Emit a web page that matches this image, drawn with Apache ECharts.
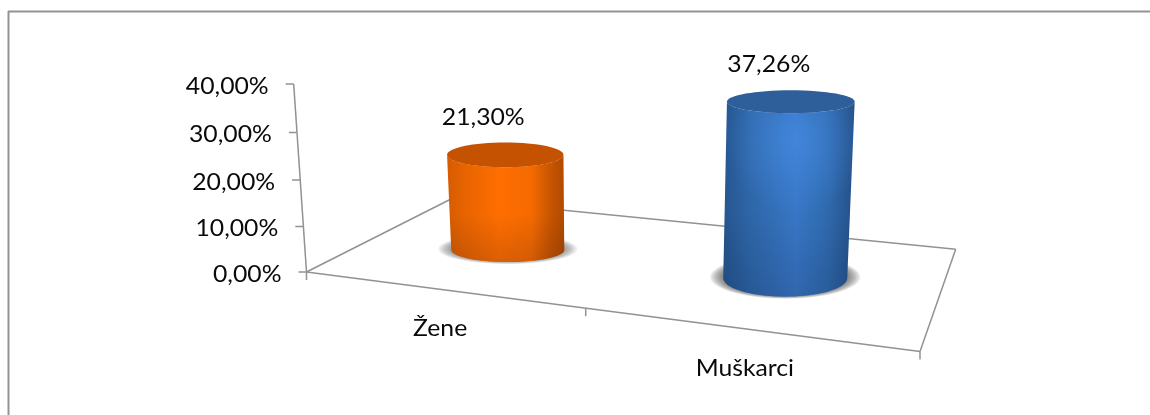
<!DOCTYPE html>
<html><head><meta charset="utf-8">
<style>html,body{margin:0;padding:0;background:#fff}#c{width:1150px;height:415px}</style>
<script src="https://cdn.jsdelivr.net/npm/echarts@6/dist/echarts.min.js"></script>
</head><body><div id="c"></div>
<script>
const categories = ['Žene', 'Muškarci'];
const values = [21.30, 37.26];
const valueLabels = ['21,30%', '37,26%'];
const yTicks = [0, 10, 20, 30, 40];
const yTickLabels = ['0,00%', '10,00%', '20,00%', '30,00%', '40,00%'];

const chart = echarts.init(document.getElementById('c'), null, {renderer: 'canvas'});
const AXIS_GRAY = '#929292', TEXT = '#0a0a0a', FONT = '22.5px Lato';
const VX = 634, TAU = 0.000208;           // one-point perspective of the Excel 3-D view
const FLOOR = {fl: [306.5, 272], fr: [920, 351.5], br: [955.7, 249.3], bl: [451, 199]};
const PALETTE = [
  {top: '#c45200', shadow: 'rgba(60,60,60,.085)', side: [[0,'#d65c00'],[.15,'#e86400'],[.45,'#ff6e00'],[.72,'#f56a00'],[.88,'#c85500'],[1,'#b04a00']], glow: 'rgba(255,120,0,0)'},
  {top: '#2e5f9b', shadow: 'rgba(50,50,50,.11)', side: [[0,'#25568f'],[.2,'#2e66a8'],[.55,'#3877c6'],[.8,'#2f6aae'],[1,'#244f86']], glow: 'rgba(74,145,235,.55)'}
];
function lift(px, py, zeroY) {            // perspective of a point raised above the floor
  const h = zeroY - py;
  return [px + (px - VX) * TAU * h, py + 0.000226 * h * (188 - h)];
}
function txt(s, x, y, align) {
  return {type: 'text', x: x, y: y, scaleX: 1.1, style: {text: s, font: FONT, fill: TEXT, align: align || 'center', verticalAlign: 'middle'}, silent: true};
}
function ln(a, b, w) {
  return {type: 'line', shape: {x1: a[0], y1: a[1], x2: b[0], y2: b[1]}, style: {stroke: AXIS_GRAY, lineWidth: w || 1.5}, silent: true};
}
function ring(cx, cy, rx, ry, from, to, n) {
  const p = [];
  for (let i = 0; i <= n; i++) { const t = from + (to - from) * i / n; p.push([cx + rx * Math.cos(t), cy + ry * Math.sin(t)]); }
  return p;
}
function renderFrame(params, api) {
  const zero = api.coord([0, 0])[1], kids = [];
  const f = FLOOR;
  kids.push(ln(f.fl, f.fr), ln(f.fr, f.br), ln(f.br, f.bl), ln(f.bl, f.fl));
  const midT = (585.7 - f.fl[0]) / (f.fr[0] - f.fl[0]);
  const mid = [585.7, f.fl[1] + (f.fr[1] - f.fl[1]) * midT];
  [f.fl, mid, f.fr].forEach(p => kids.push(ln(p, [p[0], p[1] + 8])));
  const top = lift(f.fl[0], api.coord([0, yTicks[yTicks.length - 1]])[1], zero);
  kids.push(ln([f.fl[0], zero], top));
  yTicks.forEach((t, i) => {
    const p = lift(f.fl[0], api.coord([0, t])[1], zero);
    kids.push(ln([p[0] - 8, p[1]], p));
    kids.push(txt(yTickLabels[i], p[0] - 25, p[1] + 2.5, 'right'));
  });
  // category labels sit below the centre of each front-edge segment
  const span = [f.fl, mid, f.fr];
  categories.forEach((c, i) => {
    const x = (span[i][0] + span[i + 1][0]) / 2 - 6 - i * 2, y = (span[i][1] + span[i + 1][1]) / 2 + 39;
    kids.push(txt(c, x, y));
  });
  return {type: 'group', children: kids};
}
function renderCyl(params, api) {
  const i = api.value(0), v = api.value(1), pal = PALETTE[i];
  const base = api.coord([i, 0]), zero = base[1];
  const band = api.size([1, 0])[0];
  const cx0 = base[0], t = (cx0 - 507.5) / band;
  const by = zero - 22 + 0.1009 * (cx0 - 507.5);
  const scale = 0.95 + 0.057 * t;
  const h = api.size([0, v])[1] * scale;
  const rx0 = band * (0.2036 + 0.0198 * t), ry0 = 12 + 6.6 * t;
  const tx = cx0 + (cx0 - VX) * TAU * h, ty = by - h;
  const rx1 = rx0 * 1.03, ry1 = 12.3 - 0.8 * t;
  const side = ring(tx, ty, rx1, ry1, 0, Math.PI, 40).concat(ring(cx0, by, rx0, ry0, Math.PI, 0, 40));
  const sideFill = new echarts.graphic.LinearGradient(0, 0, 1, 0, pal.side.map(s => ({offset: s[0], color: s[1]})));
  const glow = new echarts.graphic.RadialGradient(0.55, 0.2, 0.55, [{offset: 0, color: pal.glow}, {offset: 1, color: pal.glow.replace(/[\d.]+\)$/, '0)')}]);
  const shade = new echarts.graphic.LinearGradient(0, 0, 0, 1, [{offset: 0, color: 'rgba(0,0,30,0)'}, {offset: .55, color: 'rgba(0,0,30,0)'}, {offset: 1, color: 'rgba(0,0,30,.14)'}]);
  const soft = [];
  for (let k = 0; k < 8; k++) {
    soft.push({type: 'ellipse', shape: {cx: cx0, cy: by - 1, rx: rx0 + 13 - k * 2, ry: ry0 + 3 - k * 0.4}, style: {fill: pal.shadow}, silent: true});
  }
  return {type: 'group', children: soft.concat([
    {type: 'polygon', shape: {points: side}, style: {fill: sideFill}},
    {type: 'polygon', shape: {points: side}, style: {fill: glow}, silent: true},
    {type: 'polygon', shape: {points: side}, style: {fill: shade}, silent: true},
    {type: 'ellipse', shape: {cx: tx, cy: ty, rx: rx1, ry: ry1}, style: {fill: pal.top}},
    txt(valueLabels[i], tx - 22, ty - 37)
  ])};
}
chart.setOption({
  animation: false,
  backgroundColor: '#fff',
  grid: {left: 369, width: 555, top: 84, height: 188},
  xAxis: {type: 'category', data: categories, show: false},
  yAxis: {type: 'value', min: 0, max: 40, interval: 10, show: false},
  graphic: [
    {type: 'line', shape: {x1: 8, y1: 11.5, x2: 1150, y2: 11.5}, style: {stroke: '#939393', lineWidth: 2}},
    {type: 'line', shape: {x1: 8.5, y1: 11, x2: 8.5, y2: 415}, style: {stroke: '#939393', lineWidth: 2}}
  ],
  series: [
    {type: 'custom', coordinateSystem: 'cartesian2d', renderItem: renderFrame, data: [[0, 0]], clip: false, z: 1},
    {type: 'custom', coordinateSystem: 'cartesian2d', renderItem: renderCyl, data: values.map((v, i) => [i, v]), clip: false, z: 2, encode: {x: 0, y: 1}}
  ]
});
</script></body></html>
